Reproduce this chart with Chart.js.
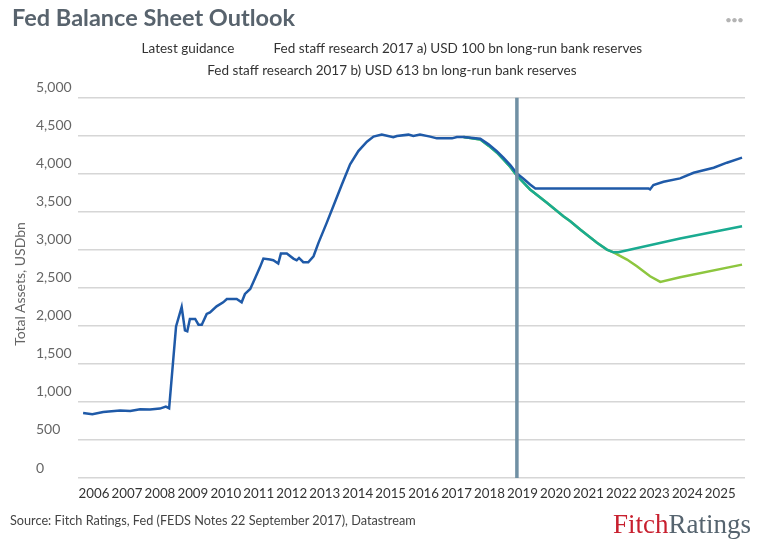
<!DOCTYPE html>
<html>
<head>
<meta charset="utf-8">
<title>Fed Balance Sheet Outlook</title>
<script src="https://cdn.jsdelivr.net/npm/chart.js@4.4.1/dist/chart.umd.min.js"></script>
<style>
    body { margin: 0; background: #fff; font-family: Lato, sans-serif; }
    #wrap { position: relative; width: 765px; height: 550px; overflow: hidden; }
    #chart { position: absolute; left: 0; top: 0; }
    .title { position: absolute; left: 12px; top: 5px; font: bold 23.5px/24px Lato; color: #58636d; white-space: nowrap; }
    .menu { position: absolute; left: 725px; top: 13px; font: 12px/14px Lato; color: #b4b4b4; letter-spacing: -1px; }
    .ytitle { position: absolute; left: -80px; top: 276px; width: 200px; text-align: center; font: 14px/16px Lato; color: #666; transform: rotate(-90deg); white-space: nowrap; }
    .source { position: absolute; left: 10px; top: 513px; font: 12.7px/14px Lato; color: #444; white-space: nowrap; }
    .logo { position: absolute; left: 613px; top: 511px; font: 27px/27px "Liberation Serif", serif; white-space: nowrap; }
    .logo .fitch { color: #c8202f; }
    .logo .ratings { color: #56646f; }
</style>
</head>
<body>
<div id="wrap">
    <canvas id="chart" width="765" height="550"></canvas>
    <div class="title">Fed Balance Sheet Outlook</div>
    <div class="menu">•••</div>
    <div class="ytitle">Total Assets, USDbn</div>
    <div class="source">Source: Fitch Ratings, Fed (FEDS Notes 22 September 2017), Datastream</div>
    <div class="logo"><span class="fitch">Fitch</span><span class="ratings">Ratings</span></div>
</div>
<script>
// Datos (años decimales, USD bn)
const guidanceYears = [2006.17, 2006.45, 2006.78, 2007.29, 2007.6, 2007.9, 2008.2, 2008.5, 2008.68, 2008.78,
    2008.99, 2009.16, 2009.26, 2009.33, 2009.41, 2009.57, 2009.67, 2009.77, 2009.92, 2010.02,
    2010.22, 2010.42, 2010.53, 2010.83, 2010.98, 2011.08, 2011.24, 2011.39, 2011.54, 2011.64,
    2011.84, 2011.94, 2012.09, 2012.17, 2012.35, 2012.55, 2012.65, 2012.72, 2012.85, 2013.0,
    2013.16, 2013.31, 2013.56, 2013.76, 2014.02, 2014.27, 2014.52, 2014.78, 2014.98, 2015.23,
    2015.58, 2015.69, 2016.04, 2016.19, 2016.39, 2016.7, 2016.9, 2017.36, 2017.51, 2017.71,
    2018.22, 2018.47, 2018.72, 2018.92, 2019.13, 2019.33, 2019.53, 2019.73, 2019.89, 2023.32,
    2023.37, 2023.47, 2023.78, 2024.28, 2024.69, 2025.3, 2025.7, 2026.16];
const guidanceValues = [855, 840, 868, 887, 880, 905, 900, 913, 940, 918,
    1994, 2249, 1941, 1928, 2091, 2091, 2016, 2016, 2157, 2178,
    2257, 2310, 2354, 2354, 2310, 2420, 2486, 2631, 2776, 2885,
    2872, 2863, 2820, 2951, 2951, 2885, 2863, 2894, 2837, 2837,
    2916, 3092, 3355, 3574, 3860, 4124, 4299, 4423, 4489, 4515,
    4480, 4497, 4515, 4497, 4515, 4489, 4466, 4466, 4484, 4484,
    4462, 4387, 4299, 4212, 4115, 4005, 3935, 3860, 3808, 3808,
    3795, 3852, 3895, 3940, 4014, 4080, 4146, 4212];

// a) USD 100 bn de reservas
const scenarioAYears = [2017.71, 2018.22, 2018.47, 2018.72, 2018.92, 2019.13, 2019.33, 2019.73, 2020.24, 2020.74,
    2020.95, 2021.25, 2021.76, 2022.06, 2022.26, 2022.67, 2022.97, 2023.37, 2023.68, 2024.28, 2026.16];
const scenarioAValues = [4484, 4450, 4370, 4280, 4190, 4090, 3975, 3794, 3619, 3443,
    3377, 3267, 3092, 3004, 2968, 2872, 2784, 2652, 2578, 2640, 2806];

// b) USD 613 bn de reservas
const scenarioBYears = [2017.71, 2018.22, 2018.47, 2018.72, 2018.92, 2019.13, 2019.33, 2019.73, 2020.24, 2020.74,
    2020.95, 2021.25, 2021.76, 2022.06, 2022.26, 2022.41, 2024.28, 2026.16];
const scenarioBValues = [4484, 4450, 4370, 4280, 4190, 4090, 3975, 3794, 3619, 3443,
    3377, 3267, 3092, 3004, 2968, 2968, 3150, 3311];

const seriesLabels = [
    'Latest guidance',
    'Fed staff research 2017 a) USD 100 bn long-run bank reserves',
    'Fed staff research 2017 b) USD 613 bn long-run bank reserves'
];
const yearLabels = [2006, 2007, 2008, 2009, 2010, 2011, 2012, 2013, 2014, 2015,
    2016, 2017, 2018, 2019, 2020, 2021, 2022, 2023, 2024, 2025];
const markerYear = 2019.33;

const toPoints = (xs, ys) => xs.map((x, i) => ({ x: x, y: ys[i] }));

// Línea vertical de "hoy"
const markerLine = {
    id: 'markerLine',
    afterLayout(chart) {
        // leyenda un poco más a la izquierda, como en el original
        if (chart.legend) { chart.legend.left -= 14; chart.legend.right -= 14; }
    },
    afterDatasetsDraw(chart) {
        const { ctx, chartArea, scales } = chart;
        const x = scales.x.getPixelForValue(markerYear);
        ctx.save();
        ctx.strokeStyle = '#7090a4';
        ctx.lineWidth = 3.5;
        ctx.beginPath();
        ctx.moveTo(x, chartArea.top);
        ctx.lineTo(x, chartArea.bottom);
        ctx.stroke();
        ctx.restore();
    }
};

new Chart(document.getElementById('chart').getContext('2d'), {
    type: 'line',
    data: {
        datasets: [
            { label: seriesLabels[0], data: toPoints(guidanceYears, guidanceValues), borderColor: '#1f5aa8', order: 0, xAxisID: 'x' },
            { label: seriesLabels[1], data: toPoints(scenarioAYears, scenarioAValues), borderColor: '#8dc63f', order: 2, xAxisID: 'x' },
            { label: seriesLabels[2], data: toPoints(scenarioBYears, scenarioBValues), borderColor: '#1aab91', order: 1, xAxisID: 'x' }
        ]
    },
    options: {
        responsive: false,
        animation: false,
        elements: {
            line: { borderWidth: 2.5, tension: 0, fill: false },
            point: { radius: 0, hoverRadius: 0 }
        },
        layout: { padding: { left: 36, right: 20, top: 33.75, bottom: 42 } },
        plugins: {
            tooltip: { enabled: false },
            legend: {
                position: 'top',
                labels: {
                    color: '#333',
                    font: { family: 'Lato', size: 13.5 },
                    boxWidth: 24,
                    padding: 8.5,
                    generateLabels: (chart) => chart.data.datasets.map((ds, i) => ({
                        text: ds.label,
                        fillStyle: 'rgba(0,0,0,0)',
                        strokeStyle: 'rgba(0,0,0,0)',
                        lineWidth: 0,
                        fontColor: '#333',
                        hidden: false,
                        datasetIndex: i
                    }))
                }
            }
        },
        scales: {
            x: {
                type: 'linear',
                min: 2006,
                max: 2026.25,
                grid: { display: false, drawTicks: false },
                border: { display: false },
                afterBuildTicks: (scale) => { scale.ticks = yearLabels.map(y => ({ value: y + 0.5 })); },
                afterFit: (scale) => { scale.height = 30; },
                ticks: {
                    autoSkip: false,
                    maxRotation: 0,
                    padding: 8,
                    color: '#333',
                    font: { family: 'Lato', size: 13.3 },
                    callback: (value, index) => String(yearLabels[index])
                }
            },
            // eje vacío arriba, sólo para separar la leyenda del área del gráfico
            xTop: {
                type: 'linear',
                position: 'top',
                min: 2006,
                max: 2026.25,
                grid: { display: false, drawTicks: false },
                border: { display: false },
                ticks: { display: false },
                afterFit: (scale) => { scale.height = 10; }
            },
            y: {
                min: 0,
                max: 5000,
                grid: { color: '#d6d6d6', lineWidth: 1.5, drawTicks: false },
                border: { display: false },
                afterFit: (scale) => { scale.width = 41.5; },
                ticks: {
                    stepSize: 500,
                    crossAlign: 'far',
                    labelOffset: -10,
                    padding: 0,
                    color: '#666',
                    font: { family: 'Lato', size: 14 },
                    callback: (value) => value.toLocaleString('en-US')
                }
            }
        }
    },
    plugins: [markerLine]
});
</script>
</body>
</html>
